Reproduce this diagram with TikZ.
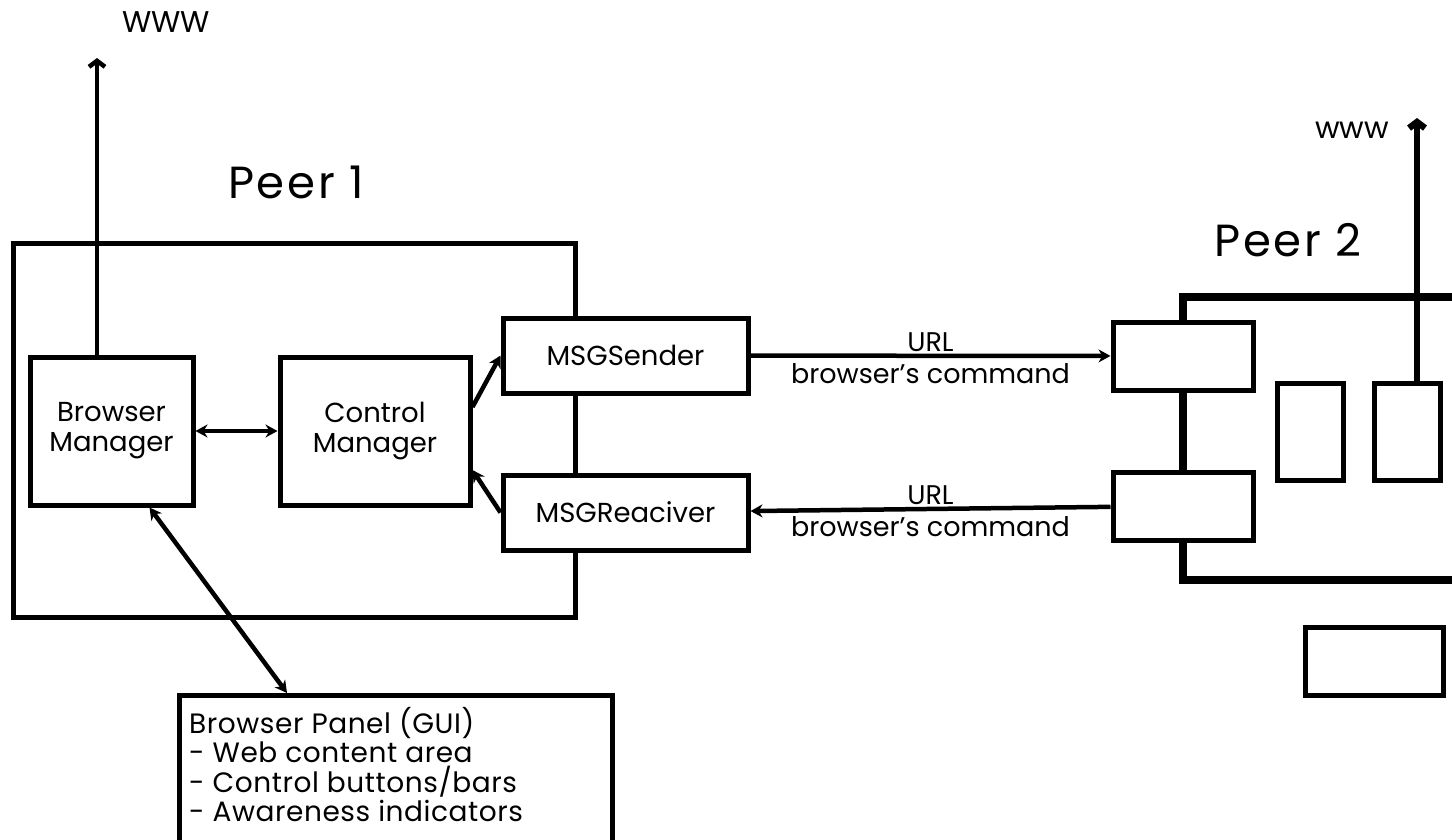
\documentclass[tikz,border=0pt]{standalone}
\usepackage{fontspec}
\setmainfont{Poppins}
\usetikzlibrary{arrows.meta, positioning}

\begin{document}
\begin{tikzpicture}[x=1pt, y=-1pt,
  node distance=82pt and 82pt,
  block/.style={draw, line width=5pt, fill=white, inner sep=0pt, align=center,
                font=\fontsize{27.5}{30}\selectfont},
  stub/.style={draw, line width=5pt, fill=white, inner sep=0pt},
  arr/.style={-{Stealth[length=12pt, width=13pt]}, line width=4.5pt},
  dblarr/.style={{Stealth[length=12pt, width=13pt]}-{Stealth[length=12pt, width=13pt]}, line width=4.5pt},
  uparr/.style={-{Straight Barb[length=6pt, width=16pt]}, line width=4.5pt},
  bus/.style={line width=7.5pt},
  peer/.style={font=\fontsize{45}{48}\selectfont\addfontfeature{LetterSpace=6}},
  lbl/.style={font=\fontsize{27}{29}\selectfont, inner sep=2pt}
]
\useasboundingbox (0,0) rectangle (1452,839);
\clip (0,0) rectangle (1452,839);

% Peer 1
\draw[line width=5pt] (13,243) rectangle (575,617);
\node[peer] (peer1) at (296,182) {Peer 1};
\node[block, minimum width=163pt, minimum height=148pt] (bm) at (111.5,431) {Browser\\Manager};
\node[block, minimum width=190pt, minimum height=148pt, right=82pt of bm] (cm) {Control\\Manager};
\node[block, minimum width=245pt, minimum height=75pt] (snd) at (625.5,355.5) {MSGSender};
\node[block, minimum width=245pt, minimum height=75pt, below=77pt of snd] (rcv) {MSGReaciver};

% GUI panel
\node[stub, anchor=north west, minimum width=433pt, minimum height=220pt] (gui) at (177,693) {};
\node[lbl, anchor=north west, align=left, font=\fontsize{28}{29.5}\selectfont\addfontfeature{LetterSpace=2}]
  (guitxt) at ([xshift=10pt, yshift=-12pt]gui.north west)
  {Browser Panel (GUI)\\ - Web content area\\ - Control buttons/bars\\ - Awareness indicators};

% Peer 2
\node[peer] (peer2) at (1288,240) {Peer 2};
\node[stub, minimum width=140pt, minimum height=68pt] (pa) at (1183,356) {};
\node[stub, minimum width=140pt, minimum height=68pt] (pb) at (1183,506) {};
\node[stub, minimum width=66pt, minimum height=97pt] (pc) at (1310,431.5) {};
\node[stub, minimum width=66pt, minimum height=97pt] (pd) at (1407.5,431.5) {};
\node[stub, minimum width=138pt, minimum height=68pt] (pe) at (1374,661) {};
\coordinate (busn) at (1452,297);
\coordinate (buss) at (1452,580);
\draw[bus] (pa.north) |- (busn);
\draw[bus] (pa.south) -- (pb.north);
\draw[bus] (pb.south) |- (buss);

% to the web
\coordinate (www1) at (97,58);
\coordinate (www2) at (1417,118);
\node[lbl, font=\fontsize{30}{32}\selectfont] (wwwa) at (166,22) {WWW};
\node[lbl, font=\fontsize{30}{32}\selectfont] (wwwb) at (1352,130) {www};
\draw[uparr] (bm.north -| www1) -- (www1);
\draw[uparr, line width=6.5pt] (pd.north -| www2) -- (www2);

% connectors
\draw[dblarr] (bm) -- (cm);
\draw[arr] ([yshift=24pt]cm.east) -- (snd.west);
\draw[arr] (rcv.west) -- ([yshift=-39pt]cm.east);
\draw[arr] (snd) -- (pa) node[lbl, midway, above] {URL} node[lbl, midway, below=3pt] {browser's command};
\draw[arr] (pb) -- (rcv) node[lbl, midway, above] {URL} node[lbl, midway, below=3pt] {browser's command};
\draw[dblarr] ([xshift=38pt]bm.south) -- ([xshift=110pt]gui.north west);
\end{tikzpicture}
\end{document}
